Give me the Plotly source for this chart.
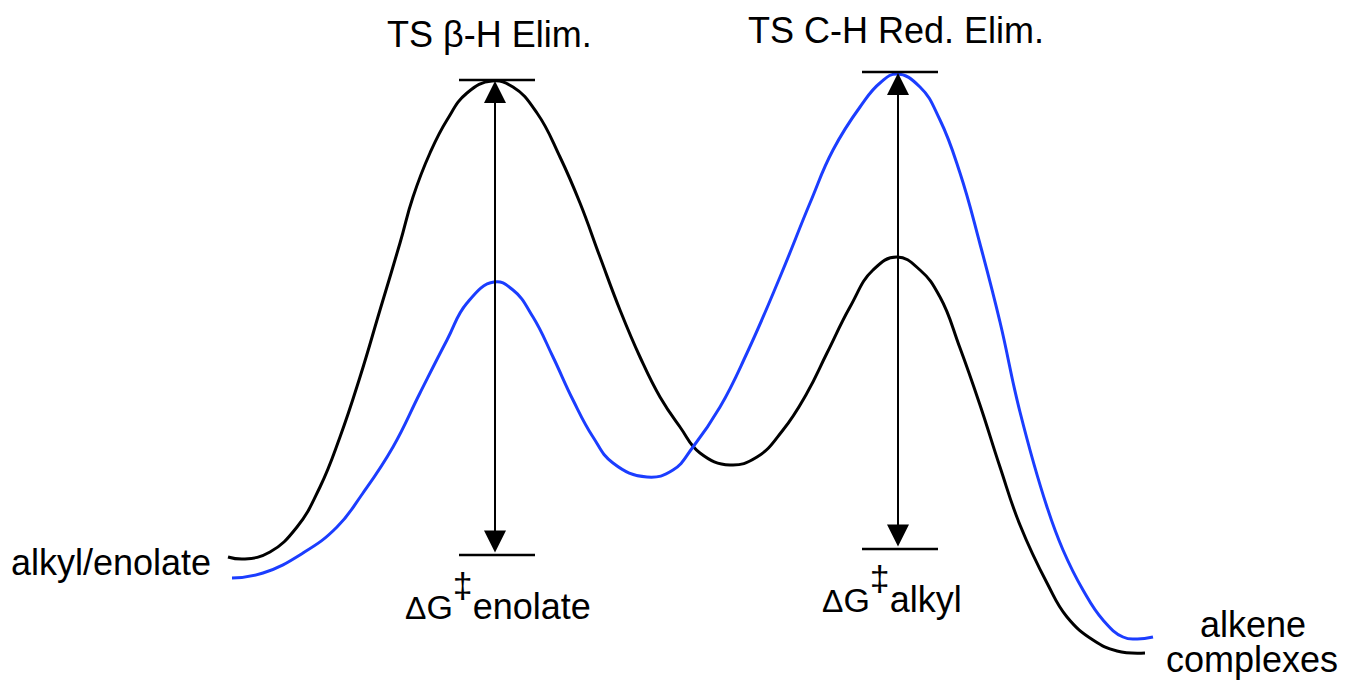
import plotly.graph_objects as go

W, H = 1347, 686
PAGE_OFFSET = 8  # default body margin of the written page

# Reaction coordinate (x) and free energy (pixel rows, converted below)
black_x = [228, 245, 270, 297, 320, 340, 360, 380, 400, 413, 430, 447, 467, 492, 513, 537, 560,
           580, 600, 620, 640, 660, 680, 700, 730, 757, 783, 807, 827, 850, 873, 897, 920, 940,
           960, 980, 1000, 1020, 1047, 1067, 1093, 1117, 1145]
black_py = [557, 559, 552, 527, 487, 437, 377, 310, 243, 197, 153, 120, 93, 81, 87, 113, 157,
            203, 257, 310, 357, 397, 427, 453, 465, 457, 430, 393, 353, 307, 270, 257, 270, 297,
            348, 405, 467, 525, 583, 617, 640, 651, 653]
blue_x = [232, 263, 303, 337, 363, 393, 420, 447, 467, 494, 513, 533, 553, 573, 593, 613, 647,
          673, 693, 720, 747, 780, 810, 833, 860, 880, 897, 920, 940, 960, 980, 1000, 1020, 1047,
          1063, 1083, 1103, 1123, 1137, 1153]
blue_py = [578, 573, 553, 527, 493, 447, 393, 340, 303, 282, 290, 317, 357, 400, 437, 463, 477,
           470, 447, 407, 353, 277, 203, 150, 107, 83, 74, 87, 120, 173, 244, 322, 412, 507,
           550, 590, 620, 637, 639, 637]

black_y = [H - v for v in black_py]
blue_y = [H - v for v in blue_py]

# Barriers: TS position, TS level, ground level
barrier_x = [495, 898]
barrier_top = [H - 80, H - 72]
barrier_bottom = [H - 555, H - 549]

ts_labels = ["TS β-H Elim.", "TS C-H Red. Elim."]
dg_labels = ["enolate", "alkyl"]
start_label = "alkyl/enolate"
end_label = ["alkene", "complexes"]

BLUE = "#1b3dff"
FONT = "Liberation Sans, Arial, Helvetica, sans-serif"
FS = 36

fig = go.Figure()
fig.add_trace(go.Scatter(x=black_x, y=black_y, mode="lines",
                         line=dict(color="black", width=3, shape="spline", smoothing=1.3),
                         hoverinfo="skip"))
fig.add_trace(go.Scatter(x=blue_x, y=blue_y, mode="lines",
                         line=dict(color=BLUE, width=3, shape="spline", smoothing=1.3),
                         hoverinfo="skip"))


def baseline_to_bottom(baseline_py):
    # annotation box bottom sits at baseline + font descent (+ border pad)
    return H - (baseline_py + 0.212 * FS + 1)


shapes = []
annotations = []
for i, bx in enumerate(barrier_x):
    for lvl in (barrier_top[i], barrier_bottom[i]):
        shapes.append(dict(type="line", x0=bx - 36, x1=bx + 40, y0=lvl, y1=lvl,
                           line=dict(color="black", width=2.5)))
    annotations.append(dict(x=bx, y=barrier_top[i] - 1, ax=bx, ay=barrier_bottom[i] + 1,
                            xref="x", yref="y", axref="x", ayref="y", text="",
                            showarrow=True, arrowhead=2, arrowside="end+start",
                            arrowsize=2.2, arrowwidth=2, arrowcolor="black",
                            standoff=0, startstandoff=0))

txt_font = dict(family=FONT, size=FS, color="black")
annotations.append(dict(x=386, y=baseline_to_bottom(47), text=ts_labels[0],
                        xanchor="left", yanchor="bottom"))
annotations.append(dict(x=747, y=baseline_to_bottom(43), text=ts_labels[1],
                        xanchor="left", yanchor="bottom"))
for lx, bl, lab in ((404, 619, dg_labels[0]), (821, 612, dg_labels[1])):
    annotations.append(dict(
        x=lx, y=baseline_to_bottom(bl),
        text=("<span style='font-size:32px'>Δ</span><span style='font-size:34px'>G</span>"
              "<span style='font-size:51px'><sup>‡</sup></span>" + lab),
        xanchor="left", yanchor="bottom"))
annotations.append(dict(x=10, y=baseline_to_bottom(575), text=start_label,
                        xanchor="left", yanchor="bottom"))
annotations.append(dict(x=1253, y=baseline_to_bottom(637), text=end_label[0],
                        xanchor="center", yanchor="bottom"))
annotations.append(dict(x=1252, y=baseline_to_bottom(672), text=end_label[1],
                        xanchor="center", yanchor="bottom"))
for a in annotations:
    if a.get("text"):
        a.update(xref="x", yref="y", showarrow=False, font=txt_font, borderpad=0)

fig.update_layout(
    width=W, height=H,
    margin=dict(l=0, r=0, t=0, b=0),
    paper_bgcolor="white", plot_bgcolor="white",
    showlegend=False,
    shapes=shapes, annotations=annotations,
    xaxis=dict(range=[PAGE_OFFSET, W + PAGE_OFFSET], visible=False, fixedrange=True),
    yaxis=dict(range=[-PAGE_OFFSET, H - PAGE_OFFSET], visible=False, fixedrange=True),
)

fig.write_html("out.html", include_plotlyjs=True, full_html=True,
               config={"displayModeBar": False, "responsive": False})
